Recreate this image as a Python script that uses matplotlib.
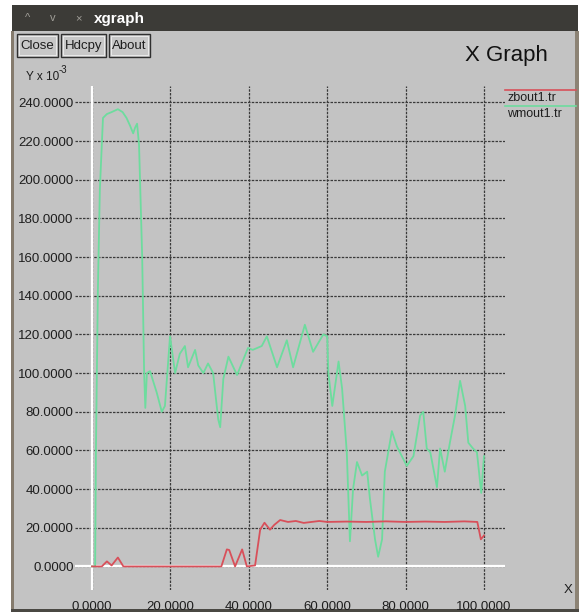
import matplotlib.pyplot as plt
from matplotlib.patches import Rectangle

plt.rcParams['font.family'] = ['Liberation Sans', 'DejaVu Sans']

# wmout1.tr trace (values in units of 1e-3)
wm_x = [0.0, 0.8, 1.0, 1.5, 2.0, 2.8, 3.8, 5.0, 6.6, 7.8, 8.8, 9.7, 10.5, 11.0, 11.5,
        12.0, 12.8, 13.3, 13.6, 14.0, 14.8, 16.5, 17.8, 18.6, 19.9, 21.2, 22.4, 23.7,
        24.5, 26.3, 27.1, 28.4, 29.6, 30.9, 32.2, 32.7, 33.5, 34.8, 37.0, 39.8, 41.0,
        43.3, 44.6, 47.2, 49.7, 51.3, 54.3, 56.4, 59.0, 60.0, 60.3, 61.3, 62.9, 63.8,
        65.0, 65.8, 66.6, 67.6, 68.9, 70.2, 70.9, 72.2, 73.0, 74.0, 74.7, 76.5, 77.8,
        80.3, 82.0, 83.7, 84.5, 85.4, 86.3, 88.0, 88.8, 90.0, 91.3, 92.6, 93.9, 95.2,
        96.0, 97.2, 98.2, 99.3, 100.0]
wm_y = [0.0, 0.0, 60.0, 143.0, 195.0, 232.0, 234.0, 235.0, 236.5, 235.0, 232.0, 228.0,
        224.0, 227.0, 229.0, 218.0, 160.0, 100.0, 82.0, 100.0, 101.0, 90.0, 80.0, 83.0,
        119.0, 100.0, 110.0, 114.0, 103.0, 112.0, 104.0, 100.0, 105.0, 100.0, 76.0,
        72.0, 97.0, 108.5, 99.0, 113.0, 112.0, 114.0, 119.0, 103.0, 117.0, 103.0,
        125.0, 111.0, 120.0, 119.0, 100.0, 83.0, 106.0, 92.0, 59.0, 13.0, 40.0, 54.0,
        47.0, 49.0, 35.0, 14.0, 5.0, 14.0, 49.0, 70.0, 62.0, 52.0, 57.0, 78.0, 80.0,
        61.0, 59.0, 41.0, 61.0, 49.0, 64.0, 78.0, 96.0, 83.0, 64.0, 61.0, 59.0, 38.0,
        57.0]

# zbout1.tr trace
zb_x = [0.0, 2.5, 3.8, 5.0, 6.6, 8.0, 33.0, 34.4, 35.0, 36.5, 38.3, 39.5, 41.6, 42.9,
        44.0, 45.4, 46.5, 48.0, 50.0, 52.0, 54.0, 56.0, 58.0, 60.0, 65.0, 70.0, 75.0,
        80.0, 85.0, 90.0, 95.0, 98.3, 99.2, 100.0]
zb_y = [0.0, 0.0, 2.6, 0.5, 4.6, 0.0, 0.0, 8.8, 8.5, 0.0, 8.8, 0.0, 0.5, 19.0, 22.6,
        19.0, 21.5, 24.0, 23.0, 23.5, 22.5, 23.0, 23.5, 23.0, 23.2, 23.0, 23.3, 23.0,
        23.2, 23.0, 23.3, 23.0, 14.0, 16.0]

x_ticks = [0, 20, 40, 60, 80, 100]
y_ticks = [0, 20, 40, 60, 80, 100, 120, 140, 160, 180, 200, 220, 240]
legend_names = ['zbout1.tr', 'wmout1.tr']
buttons = ['Close', 'Hdcpy', 'About']

W, H = 581, 616
bg_gray = '#c3c3c3'
txt = '#1e1e1e'
red = '#d8505a'
green = '#6ddc9e'

fig = plt.figure(figsize=(W / 100, H / 100), dpi=100, facecolor='white')

# window chrome drawn in pixel coordinates
bg = fig.add_axes([0, 0, 1, 1])
bg.set_xlim(0, W)
bg.set_ylim(H, 0)
bg.axis('off')
bg.add_patch(Rectangle((12, 5), 566, 607, fc=bg_gray, ec='none'))
bg.add_patch(Rectangle((12, 5), 566, 26, fc='#3c3b37', ec='none'))
bg.add_patch(Rectangle((11, 31), 3, 581, fc='#857b6d', ec='none'))
bg.add_patch(Rectangle((575, 31), 4, 581, fc='#8c8375', ec='none'))
bg.add_patch(Rectangle((11, 609), 568, 3, fc='#4a4843', ec='none'))

for sx, s in zip([28, 53, 78], ['^', 'v', '×']):
    bg.text(sx, 18, s, color='#a09e98', fontsize=8, ha='center', va='center')
bg.text(94, 18.5, 'xgraph', color='white', fontsize=11, fontweight='bold',
        ha='left', va='center')

bx = [17, 61, 109]
bw = [41, 45, 41]
for x0, w, s in zip(bx, bw, buttons):
    bg.add_patch(Rectangle((x0, 34), w, 23, fc='#c8c8c8', ec='#303030', lw=1.0))
    bg.add_patch(Rectangle((x0 + 2, 36), w - 4, 19, fc='none', ec='#f0f0f0', lw=0.6))
    bg.text(x0 + w / 2, 46, s, color=txt, fontsize=9.5, ha='center', va='center')

bg.text(465, 61, 'X Graph', color='#111111', fontsize=16, ha='left', va='baseline')
bg.text(26, 80, 'Y x 10', color=txt, fontsize=8.5, ha='left', va='baseline')
bg.text(59, 73, '-3', color=txt, fontsize=7, ha='left', va='baseline')
bg.text(568, 590, 'X', color=txt, fontsize=9.5, ha='center', va='center')

# legend: colour line above each name
for ly, name, c in zip([90, 106], legend_names, [red, green]):
    bg.plot([505, 576], [ly, ly], color=c, lw=1.2)
    bg.text(507, ly + 8, name, color=txt, fontsize=9, ha='left', va='center')

# plotting area
left, right, top, bottom = 75, 505, 86, 590
ax = fig.add_axes([left / W, (H - bottom) / H, (right - left) / W, (bottom - top) / H])
ax.patch.set_alpha(0)
for sp in ax.spines.values():
    sp.set_visible(False)
ax.set_xlim(-4.34, 105.36)
ax.set_ylim(-12.2, 248.5)
ax.set_xticks(x_ticks)
ax.set_yticks(y_ticks)
ax.set_xticklabels(['%.4f' % v for v in x_ticks])
ax.set_yticklabels(['%.4f' % v for v in y_ticks])
ax.tick_params(length=0, labelsize=9.5, labelcolor=txt)
ax.tick_params(axis='x', pad=8)
ax.tick_params(axis='y', pad=1)
ax.grid(True, color='#3a3a3a', linestyle=(0, (2, 1)), linewidth=0.9)
ax.axhline(0, color='white', lw=1.6, zorder=2)
ax.axvline(0, color='white', lw=1.6, zorder=2)

ax.plot(wm_x, wm_y, color=green, lw=1.3, zorder=3)
ax.plot(zb_x, zb_y, color=red, lw=1.3, zorder=4)

fig.savefig('out.png', dpi=100, facecolor='white')
